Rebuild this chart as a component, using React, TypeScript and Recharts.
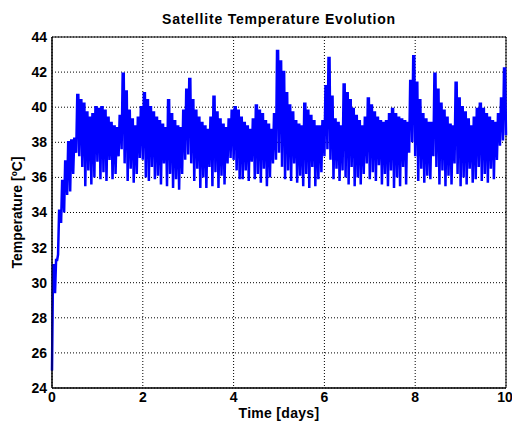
import React from 'react';
import {
  LineChart,
  Line,
  XAxis,
  YAxis,
  CartesianGrid,
  ReferenceArea,
} from 'recharts';

// one cold / hot reading pair per orbit, 15 orbits a day over 10 days
const ORBITS_PER_DAY = 15;

const ORBIT_LOW = [
  25.0, 29.4, 31.6, 33.4, 34.0, 35.0, 35.2, 36.2, 37.4, 37.2,
  36.6, 35.5, 36.4, 35.6, 36.0, 36.9, 35.9, 36.3, 35.8, 37.0,
  35.9, 36.2, 37.2, 37.6, 36.8, 35.8, 36.5, 35.7, 36.2, 37.1,
  37.0, 36.0, 35.8, 36.6, 35.9, 36.1, 35.6, 36.8, 35.5, 36.2,
  35.4, 35.9, 35.3, 36.2, 37.0, 37.3, 36.8, 35.8, 36.5, 35.4,
  36.0, 35.4, 36.6, 35.5, 36.3, 35.4, 36.1, 35.6, 36.8, 37.1,
  37.0, 36.4, 35.9, 35.9, 36.4, 35.8, 36.9, 35.9, 36.2, 35.7,
  36.5, 35.5, 36.0, 36.8, 37.0, 37.4, 36.6, 35.9, 36.4, 35.8,
  36.8, 35.7, 36.1, 35.5, 36.2, 35.4, 36.6, 35.5, 35.9, 36.3,
  37.2, 37.6, 37.0, 35.9, 36.5, 35.8, 36.4, 36.0, 35.6, 36.6,
  35.5, 36.0, 35.6, 36.2, 36.8, 35.9, 36.3, 35.8, 36.7, 35.6,
  36.2, 35.5, 36.4, 35.4, 36.0, 35.5, 36.6, 35.6, 37.4, 38.0,
  37.2, 35.8, 36.5, 35.7, 36.1, 35.9, 37.2, 36.6, 35.6, 36.4,
  35.5, 36.1, 35.6, 36.8, 36.2, 35.5, 36.0, 35.6, 36.5, 35.7,
  35.9, 36.6, 35.8, 36.2, 35.7, 36.5, 35.9, 37.0, 37.8, 38.1,
];

const ORBIT_HIGH = [
  31.0, 31.3, 34.1, 35.8, 36.9, 38.0, 38.1, 38.2, 40.7, 40.4,
  40.2, 39.7, 39.4, 39.6, 40.0, 39.9, 40.0, 39.8, 39.4, 39.1,
  38.9, 38.8, 39.5, 41.9, 40.9, 39.8, 39.3, 38.9, 39.4, 40.0,
  40.8, 40.4, 40.0, 39.7, 39.4, 39.2, 39.0, 38.8, 40.4, 39.6,
  39.2, 38.9, 38.8, 39.8, 41.0, 41.6, 40.4, 39.8, 39.4, 39.1,
  38.9, 38.7, 39.4, 40.6, 39.7, 39.3, 39.0, 38.8, 39.3, 39.8,
  40.0, 39.8, 39.4, 39.1, 38.9, 38.7, 39.3, 40.1, 39.8, 39.6,
  39.2, 39.0, 38.7, 39.6, 43.2, 42.6, 42.0, 40.8, 40.1, 39.7,
  39.2, 39.0, 38.9, 40.2, 39.8, 39.5, 39.2, 38.9, 38.9, 39.2,
  41.2, 42.8, 40.6, 39.3, 39.1, 38.9, 41.3, 40.8, 40.4, 39.9,
  39.5, 39.2, 38.9, 39.4, 40.5, 40.1, 39.7, 39.4, 39.2, 39.1,
  39.2, 39.6, 39.9, 39.6, 39.4, 39.3, 39.2, 39.1, 41.5, 42.9,
  41.4, 40.4, 39.6, 39.3, 39.1, 39.1, 41.9, 41.0, 40.2, 39.8,
  39.4, 39.0, 38.9, 41.4, 40.5, 40.0, 39.7, 39.3, 38.9, 39.4,
  39.9, 40.2, 39.9, 39.6, 39.4, 39.2, 39.1, 39.6, 40.5, 42.2,
];

const END_TEMP = 38.4;

const X_TICKS = [0, 2, 4, 6, 8, 10];
const Y_TICKS = [24, 26, 28, 30, 32, 34, 36, 38, 40, 42, 44];

// each orbit: cold reading, then the hot reading held for part of the orbit
const data: { t: number; temp: number }[] = [];
ORBIT_LOW.forEach((lo, k) => {
  data.push({ t: k / ORBITS_PER_DAY, temp: lo });
  data.push({ t: (k + 0.35) / ORBITS_PER_DAY, temp: ORBIT_HIGH[k] });
  data.push({ t: (k + 0.7) / ORBITS_PER_DAY, temp: ORBIT_HIGH[k] });
});
data.push({ t: 10, temp: END_TEMP });

const FONT = '"Liberation Sans", Arial, Helvetica, sans-serif';
const tickStyle = { fill: '#000', fontSize: 14, fontWeight: 'bold', fontFamily: FONT };

export default function App() {
  return (
    <div style={{ position: 'absolute', left: 0, top: 0, width: 512, height: 429, background: '#fff' }}>
      <div
        style={{
          position: 'absolute',
          left: 52,
          top: 12,
          width: 454,
          textAlign: 'center',
          fontFamily: FONT,
          fontWeight: 'bold',
          fontSize: 14,
          lineHeight: '14px',
          letterSpacing: 0.8,
          color: '#000',
        }}
      >
        Satellite Temperature Evolution
      </div>
      <LineChart
        width={512}
        height={429}
        data={data}
        margin={{ top: 37, right: 6, bottom: 0, left: 0 }}
      >
        <CartesianGrid stroke="#000" strokeDasharray="1 2" />
        <XAxis
          dataKey="t"
          type="number"
          domain={[0, 10]}
          ticks={X_TICKS}
          height={41}
          tickLine={false}
          tickSize={4}
          tickMargin={0}
          axisLine={{ stroke: '#000' }}
          tick={tickStyle}
          label={{
            value: 'Time [days]',
            position: 'insideBottom',
            offset: 11,
            style: { fill: '#000', fontSize: 14, fontWeight: 'bold', fontFamily: FONT, letterSpacing: 0.3 },
          }}
        />
        <YAxis
          type="number"
          domain={[24, 44]}
          ticks={Y_TICKS}
          width={52}
          tickLine={false}
          tickSize={5}
          tickMargin={0}
          axisLine={{ stroke: '#000' }}
          tick={tickStyle}
          label={{
            value: 'Temperature [ºC]',
            angle: -90,
            position: 'insideLeft',
            offset: 17,
            style: { fill: '#000', fontSize: 14, fontWeight: 'bold', fontFamily: FONT, textAnchor: 'middle' },
          }}
        />
        <Line
          type="linear"
          dataKey="temp"
          stroke="#0000ff"
          strokeWidth={2.5}
          strokeLinejoin="miter"
          dot={false}
          isAnimationActive={false}
        />
        <ReferenceArea x1={0} x2={10} y1={24} y2={44} fill="none" stroke="#000" strokeWidth={1} ifOverflow="visible" />
      </LineChart>
    </div>
  );
}
